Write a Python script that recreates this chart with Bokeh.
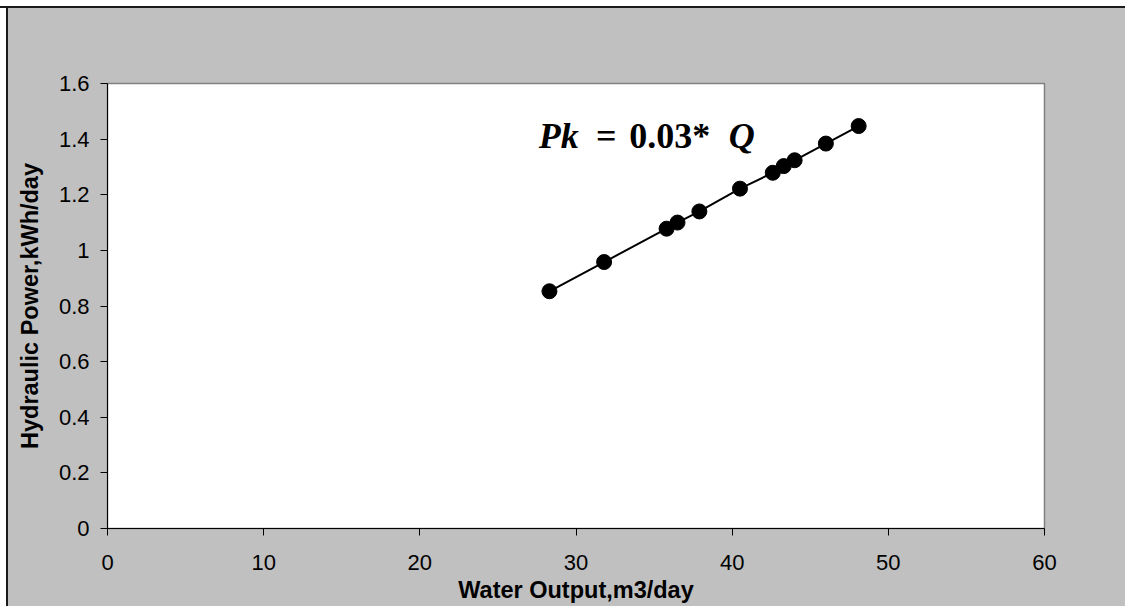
from bokeh.plotting import figure
from bokeh.models import FixedTicker, Label
from bokeh.embed import file_html
from bokeh.resources import INLINE

# Data
water_output = [28.3, 31.8, 35.8, 36.5, 37.9, 40.5, 42.6, 43.3, 44.0, 46.0, 48.1]
hydraulic_power = [0.853, 0.958, 1.078, 1.100, 1.140, 1.222, 1.279, 1.303, 1.324, 1.384, 1.447]

x_ticks = [0, 10, 20, 30, 40, 50, 60]
y_ticks = [0, 0.2, 0.4, 0.6, 0.8, 1.0, 1.2, 1.4, 1.6]
y_tick_labels = ["0", "0.2", "0.4", "0.6", "0.8", "1", "1.2", "1.4", "1.6"]

x_label = "Water Output,m3/day"
y_label = "Hydraulic Power,kWh/day"

GRAY = "#C0C0C0"

p = figure(width=1125, height=606, x_range=(0, 60), y_range=(0, 1.6),
           output_backend="svg", toolbar_location=None,
           min_border_left=107, min_border_top=83, min_border_right=81, min_border_bottom=78,
           background_fill_color="white", border_fill_color=None)
p.styles = {
    "background": ("linear-gradient(to bottom, white 0px, white 6px, #1a1a1a 6px, #1a1a1a 8px, transparent 8px), "
                   "linear-gradient(to right, white 0px, white 6px, #1a1a1a 6px, #1a1a1a 8px, transparent 8px), "
                   + GRAY),
}

p.grid.visible = False
p.outline_line_color = "#808080"
p.outline_line_width = 1.5

for ax in (p.xaxis[0], p.yaxis[0]):
    ax.axis_line_color = "black"
    ax.major_tick_line_color = "black"
    ax.minor_tick_line_color = None
    ax.major_tick_in = 0
    ax.major_tick_out = 7
    ax.major_label_text_font = "Liberation Sans"
    ax.major_label_text_font_size = "22px"
    ax.major_label_text_color = "black"
    ax.axis_label_text_font = "Liberation Sans"
    ax.axis_label_text_font_size = "23.5px"
    ax.axis_label_text_font_style = "bold"
    ax.axis_label_text_color = "black"

p.xaxis.ticker = FixedTicker(ticks=x_ticks)
p.yaxis.ticker = FixedTicker(ticks=y_ticks)
p.yaxis.major_label_overrides = {t: l for t, l in zip(y_ticks, y_tick_labels)}
p.xaxis.axis_label = x_label
p.yaxis.axis_label = y_label
p.xaxis.major_label_standoff = 19
p.xaxis.axis_label_standoff = 4
p.yaxis.major_label_standoff = 11
p.yaxis.axis_label_standoff = 13

p.line(water_output, hydraulic_power, line_color="black", line_width=2)
p.scatter(water_output, hydraulic_power, size=15, marker="circle",
          fill_color="black", line_color="black")

# Equation annotation: Pk = 0.03*Q
eq_parts = [("Pk", "bold italic", 28.9), ("=", "bold", 31.94),
            ("0.03*", "bold", 36.0), ("Q", "bold italic", 40.61)]
for txt, style, xc in eq_parts:
    p.add_layout(Label(x=xc, y=1.413, text=txt, text_align="center",
                       text_baseline="alphabetic", text_font="Liberation Serif",
                       text_font_style=style, text_font_size="36px",
                       text_color="black"))

open("out.html", "w").write(file_html(p, INLINE))
